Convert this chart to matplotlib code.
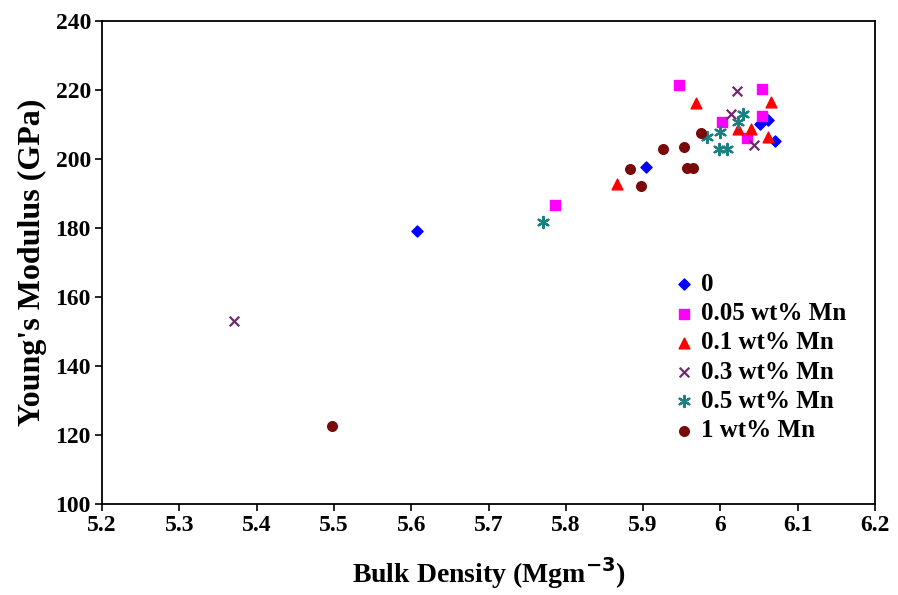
import matplotlib
matplotlib.use("Agg")
import matplotlib.pyplot as plt

plt.rcParams['font.family'] = ['Liberation Serif', 'DejaVu Serif']
plt.rcParams['font.weight'] = 'bold'

# Young's modulus vs bulk density, per Mn content
mn0_x = [5.608, 5.904, 6.051, 6.062, 6.071]
mn0_y = [179.1, 197.6, 209.9, 211.1, 205.0]

mn005_x = [5.786, 5.946, 6.002, 6.035, 6.054, 6.054]
mn005_y = [186.6, 221.3, 210.6, 206.0, 220.3, 212.5]

mn01_x = [5.866, 5.968, 6.023, 6.040, 6.066, 6.061]
mn01_y = [192.6, 216.1, 208.6, 208.6, 216.3, 206.4]

mn03_x = [5.371, 6.014, 6.021, 6.044]
mn03_y = [153.0, 213.0, 219.5, 204.0]

mn05_x = [5.770, 5.983, 6.000, 5.998, 6.009, 6.029, 6.023]
mn05_y = [181.7, 206.3, 207.7, 202.9, 202.9, 213.0, 210.6]

mn1_x = [5.498, 5.883, 5.897, 5.926, 5.953, 5.957, 5.965, 5.975]
mn1_y = [122.6, 197.0, 192.0, 202.7, 203.3, 197.2, 197.2, 207.4]

labels = ['0', '0.05 wt% Mn', '0.1 wt% Mn', '0.3 wt% Mn', '0.5 wt% Mn', '1 wt% Mn']

fig = plt.figure(figsize=(8.98, 5.95), dpi=100)
ax = fig.add_axes([0.1136, 0.1529, 0.8608, 0.8126])

ax.scatter(mn0_x, mn0_y, marker='D', s=32, color='#0000ff', label=labels[0])
ax.scatter(mn005_x, mn005_y, marker='s', s=48, color='#ff00ff', label=labels[1])
ax.scatter(mn01_x, mn01_y, marker='^', s=60, color='#ff0000', label=labels[2])
ax.scatter(mn03_x, mn03_y, marker='x', s=48, color='#6e2a6e', linewidths=1.6, label=labels[3])
ax.scatter(mn05_x, mn05_y, marker=(6, 2, 0), s=65, color='#1a8080', linewidths=1.6, label=labels[4])
ax.scatter(mn1_x, mn1_y, marker='o', s=48, color='#7a0a0a', label=labels[5])

ax.set_xlim(5.2, 6.2)
ax.set_ylim(100, 240)
ax.set_xticks([5.2, 5.3, 5.4, 5.5, 5.6, 5.7, 5.8, 5.9, 6.0, 6.1, 6.2])
ax.set_xticklabels(['5.2', '5.3', '5.4', '5.5', '5.6', '5.7', '5.8', '5.9', '6', '6.1', '6.2'])
ax.set_yticks(range(100, 241, 20))
ax.tick_params(direction='out', length=5, width=1.2, labelsize=17, pad=3, top=False, right=False)
for s in ax.spines.values():
    s.set_linewidth(1.3)

ax.set_xlabel('Bulk Density (Mgm$^{\\mathbf{-3}}$)', fontsize=20, fontweight='bold', labelpad=14)
ax.set_ylabel("Young's Modulus (GPa)", fontsize=23, fontweight='bold', labelpad=6)

ax.legend(loc='upper left', bbox_to_anchor=(0.738, 0.478), frameon=False, fontsize=18,
          handletextpad=0.25, handlelength=0.9, labelspacing=0.25, borderaxespad=0,
          borderpad=0)

fig.savefig('out.png', dpi=100)
